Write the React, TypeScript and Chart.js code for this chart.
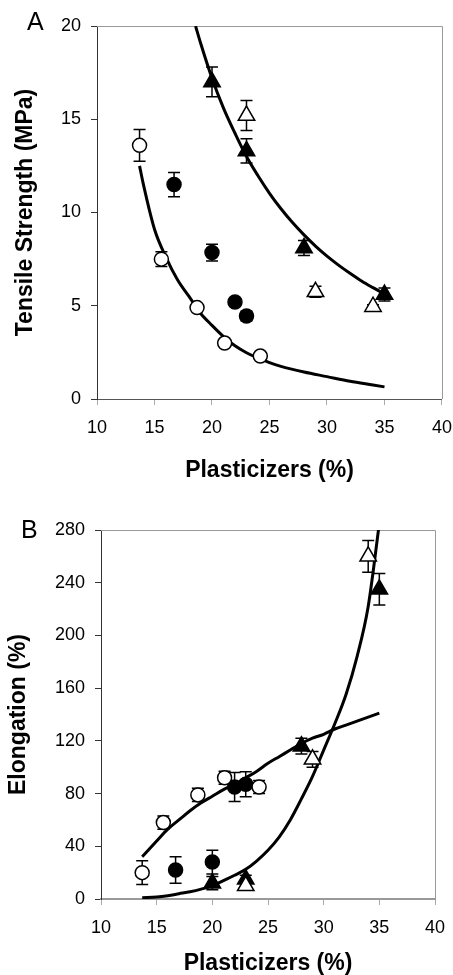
import React, { useEffect, useRef } from "react";
import { Chart, registerables } from "chart.js";

Chart.register(...registerables);

const FONT = "'Liberation Sans', Arial, sans-serif";

// ---------- Panel A: Tensile Strength ----------
const aXTicks = [10, 15, 20, 25, 30, 35, 40];
const aYTicks = [0, 5, 10, 15, 20];

const aOpenCircleX = [13.7, 15.6, 18.7, 21.1, 24.2];
const aOpenCircleY = [13.6, 7.5, 4.9, 3.0, 2.3];
const aOpenCircleErr = [0.85, 0.4, 0.2, 0.15, 0.15];

const aFilledCircleX = [16.7, 20, 22, 23];
const aFilledCircleY = [11.5, 7.85, 5.2, 4.45];
const aFilledCircleErr = [0.65, 0.45, 0.2, 0.25];

const aFilledTriX = [20, 23, 28, 35];
const aFilledTriY = [17.0, 13.3, 8.1, 5.6];
const aFilledTriErr = [0.8, 0.65, 0.4, 0.35];

const aOpenTriX = [23, 29, 34];
const aOpenTriY = [15.2, 5.75, 4.95];
const aOpenTriErr = [0.8, 0.3, 0.1];

const aFitLowX = [13.7, 14, 15, 16, 17, 18, 19, 20, 21, 22, 23, 24, 25, 26, 28, 30, 32, 34, 35];
const aFitLowY = [12.5, 11.6, 9.1, 7.6, 6.4, 5.5, 4.6, 3.95, 3.35, 2.85, 2.48, 2.2, 1.95, 1.75, 1.45, 1.2, 0.95, 0.75, 0.65];

const aFitHighX = [18.57, 19, 20, 21, 22, 23, 24, 25, 26, 27, 28, 29, 30, 31, 32, 33, 34, 35];
const aFitHighY = [20, 19.1, 17.2, 15.6, 14.25, 13.0, 11.97, 11.03, 10.2, 9.46, 8.8, 8.2, 7.66, 7.18, 6.74, 6.33, 5.97, 5.63];

// ---------- Panel B: Elongation ----------
const bXTicks = [10, 15, 20, 25, 30, 35, 40];
const bYTicks = [0, 40, 80, 120, 160, 200, 240, 280];

const bOpenCircleX = [13.7, 15.6, 18.7, 21.1, 24.2];
const bOpenCircleY = [20, 58, 79, 92, 85];
const bOpenCircleErr = [9, 5, 5, 5, 5];

const bFilledCircleX = [16.7, 20, 22, 23];
const bFilledCircleY = [22, 28, 85, 87];
const bFilledCircleErr = [10, 9, 11, 9.5];

const bFilledTriX = [20, 23, 28, 35];
const bFilledTriY = [12, 15, 116, 235];
const bFilledTriErr = [5, 3, 6, 12];

const bOpenTriX = [23, 29, 34];
const bOpenTriY = [10, 106, 260];
const bOpenTriErr = [2, 6, 12];

const bFitLinX = [13.7, 15, 16, 17, 18, 19, 20, 21, 22, 23, 24, 25, 26, 27, 28, 29, 30, 31, 32, 33, 34, 35];
const bFitLinY = [32, 44, 53, 60, 67, 73, 78, 83, 87, 92, 97, 103, 108, 113, 118, 122, 125, 129, 132, 135, 138, 141];

const bFitExpX = [13.7, 15, 16, 17, 18, 19, 20, 21, 22, 23, 24, 25, 26, 27, 28, 29, 30, 31, 32, 33, 34, 35];
const bFitExpY = [1, 1.5, 2.5, 4, 5.5, 7.5, 10, 14, 18, 22.5, 29, 37, 47, 60, 76, 93, 113, 133, 155, 184, 222, 285];

// ---------- helpers ----------
const pts = (xs: number[], ys: number[]) => xs.map((x, i) => ({ x, y: ys[i] }));

const markerSet = (
  xs: number[],
  ys: number[],
  errs: number[],
  style: "circle" | "triangle",
  filled: boolean
) => ({
  type: "scatter" as const,
  data: pts(xs, ys),
  errors: errs,
  pointStyle: style,
  pointRadius: style === "circle" ? 7 : 9.5,
  pointBorderWidth: 1.5,
  pointBackgroundColor: filled ? "#000" : "#fff",
  pointBorderColor: "#000",
  backgroundColor: filled ? "#000" : "#fff",
  borderColor: "#000",
  showLine: false,
  order: 0,
});

const fitSet = (xs: number[], ys: number[]) => ({
  type: "line" as const,
  data: pts(xs, ys),
  borderColor: "#000",
  borderWidth: 3,
  pointRadius: 0,
  fill: false,
  tension: 0.4,
  cubicInterpolationMode: "monotone" as const,
  order: 10,
});

const frameErrPlugin = {
  id: "frameErr",
  beforeDatasetsDraw(chart: any) {
    const { ctx, chartArea } = chart;
    const { left, right, top, bottom } = chartArea;
    ctx.save();
    ctx.strokeStyle = "#999";
    ctx.lineWidth = 1;
    ctx.beginPath();
    ctx.moveTo(left, top + 0.5);
    ctx.lineTo(right + 0.5, top + 0.5);
    ctx.lineTo(right + 0.5, bottom);
    ctx.stroke();
    const xs = chart.scales.x;
    const ys = chart.scales.y;
    ctx.strokeStyle = "#000";
    ctx.lineWidth = 1.5;
    chart.data.datasets.forEach((ds: any) => {
      if (!ds.errors) return;
      ds.data.forEach((p: any, i: number) => {
        const e = ds.errors[i];
        if (!e) return;
        const px = xs.getPixelForValue(p.x);
        const y1 = ys.getPixelForValue(p.y + e);
        const y2 = ys.getPixelForValue(p.y - e);
        ctx.beginPath();
        ctx.moveTo(px, y1);
        ctx.lineTo(px, y2);
        ctx.moveTo(px - 6, y1);
        ctx.lineTo(px + 6, y1);
        ctx.moveTo(px - 6, y2);
        ctx.lineTo(px + 6, y2);
        ctx.stroke();
      });
    });
    ctx.restore();
  },
};

type PanelSpec = {
  yTitle: string;
  xTicks: number[];
  yTicks: number[];
  datasets: any[];
  padTop: number;
  padRight: number;
  yWidth: number;
  xHeight: number;
  yTitlePad: number;
  xTitlePad: number;
  xBorderColor: string;
  xBorderWidth: number;
};

function buildConfig(p: PanelSpec): any {
  const yMin = p.yTicks[0];
  const yMax = p.yTicks[p.yTicks.length - 1];
  const yStep = p.yTicks[1] - p.yTicks[0];
  const xMin = p.xTicks[0];
  const xMax = p.xTicks[p.xTicks.length - 1];
  const xStep = p.xTicks[1] - p.xTicks[0];
  return {
    type: "scatter",
    data: { datasets: p.datasets },
    plugins: [frameErrPlugin],
    options: {
      responsive: false,
      animation: false,
      devicePixelRatio: 1,
      layout: { padding: { left: 0, right: p.padRight, top: p.padTop, bottom: 0 } },
      plugins: { legend: { display: false }, tooltip: { enabled: false } },
      scales: {
        x: {
          type: "linear",
          min: xMin,
          max: xMax,
          ticks: {
            stepSize: xStep,
            color: "#000",
            padding: 1,
            maxRotation: 0,
            font: { family: FONT, size: 18, lineHeight: 2.5 },
          },
          grid: { drawOnChartArea: false, drawTicks: true, tickLength: 6, color: "#aaa" },
          border: { color: p.xBorderColor, width: p.xBorderWidth },
          title: {
            display: true,
            text: "Plasticizers (%)",
            color: "#000",
            font: { family: FONT, size: 23, weight: "bold", lineHeight: 1 },
            padding: { top: 0, bottom: p.xTitlePad },
          },
          afterFit: (s: any) => {
            s.height = p.xHeight;
          },
        },
        y: {
          type: "linear",
          min: yMin,
          max: yMax,
          ticks: {
            stepSize: yStep,
            color: "#000",
            padding: 10,
            font: { family: FONT, size: 18 },
          },
          grid: { drawOnChartArea: false, drawTicks: true, tickLength: 6, color: "#333" },
          border: { color: "#333", width: 1 },
          title: {
            display: true,
            text: p.yTitle,
            color: "#000",
            font: { family: FONT, size: 23, weight: "bold", lineHeight: 1 },
            padding: { top: p.yTitlePad, bottom: 0 },
          },
          afterFit: (s: any) => {
            s.width = p.yWidth;
          },
        },
      },
    },
  };
}

function Panel({ spec, top, height, label, labelTop }: { spec: PanelSpec; top: number; height: number; label: string; labelTop: number }) {
  const ref = useRef<HTMLCanvasElement | null>(null);
  useEffect(() => {
    if (!ref.current) return;
    const chart = new Chart(ref.current, buildConfig(spec));
    return () => chart.destroy();
  }, []);
  return (
    <>
      <canvas
        ref={ref}
        width={453}
        height={height}
        style={{ position: "absolute", left: 0, top, width: 453, height }}
      />
      <div
        style={{
          position: "absolute",
          left: label === "A" ? 27 : 21,
          top: labelTop,
          fontFamily: FONT,
          fontSize: 25,
          lineHeight: "25px",
          color: "#000",
        }}
      >
        {label}
      </div>
    </>
  );
}

const specA: PanelSpec = {
  yTitle: "Tensile Strength (MPa)",
  xTicks: aXTicks,
  yTicks: aYTicks,
  datasets: [
    markerSet(aOpenCircleX, aOpenCircleY, aOpenCircleErr, "circle", false),
    markerSet(aFilledCircleX, aFilledCircleY, aFilledCircleErr, "circle", true),
    markerSet(aOpenTriX, aOpenTriY, aOpenTriErr, "triangle", false),
    markerSet(aFilledTriX, aFilledTriY, aFilledTriErr, "triangle", true),
    fitSet(aFitLowX, aFitLowY),
    fitSet(aFitHighX, aFitHighY),
  ],
  padTop: 26,
  padRight: 11,
  yWidth: 97,
  xHeight: 86,
  yTitlePad: 14,
  xTitlePad: 3,
  xBorderColor: "#555",
  xBorderWidth: 1,
};

const specB: PanelSpec = {
  yTitle: "Elongation (%)",
  xTicks: bXTicks,
  yTicks: bYTicks,
  datasets: [
    markerSet(bOpenCircleX, bOpenCircleY, bOpenCircleErr, "circle", false),
    markerSet(bFilledCircleX, bFilledCircleY, bFilledCircleErr, "circle", true),
    markerSet(bOpenTriX, bOpenTriY, bOpenTriErr, "triangle", false),
    markerSet(bFilledTriX, bFilledTriY, bFilledTriErr, "triangle", true),
    fitSet(bFitLinX, bFitLinY),
    fitSet(bFitExpX, bFitExpY),
  ],
  padTop: 45,
  padRight: 18,
  yWidth: 101,
  xHeight: 76,
  yTitlePad: 7,
  xTitlePad: 0,
  xBorderColor: "#999",
  xBorderWidth: 2,
};

export default function App() {
  return (
    <div style={{ position: "absolute", left: 0, top: 0, width: 453, height: 975, background: "#fff", overflow: "hidden" }}>
      <Panel spec={specA} top={0} height={485} label="A" labelTop={9} />
      <Panel spec={specB} top={485} height={490} label="B" labelTop={517} />
    </div>
  );
}
